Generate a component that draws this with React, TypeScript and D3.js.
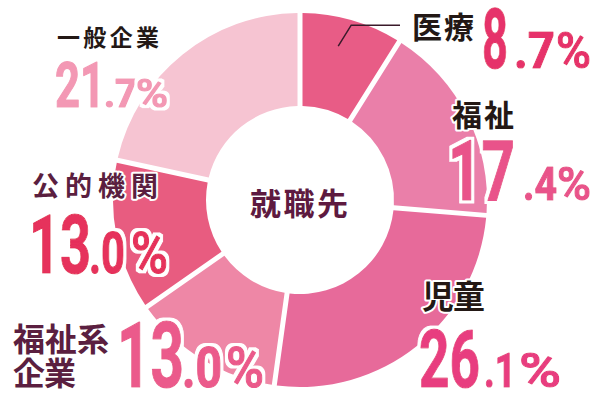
import React from "react";
import * as d3 from "d3";

const categories = ["医療", "福祉", "児童", "福祉系企業", "公的機関", "一般企業"];
const values = [8.7, 17.4, 26.1, 13.0, 13.0, 21.7];
const sliceColors = ["#e85c86", "#ea7fa9", "#e76a9a", "#ee87a6", "#e85c80", "#f6c4d2"];
const numberColors = ["#e6336a", "#e9538a", "#e83e7f", "#eb5a8b", "#e6305b", "#f398b4"];
const nameColors = ["#231815", "#231815", "#231815", "#5b1f40", "#5b1f40", "#231815"];
const centerTitle = "就職先";

// label layout (positions only)
const nameLayout = [
  { lines: ["医療"], x: 412, y: [38], size: 30, w: [62] },
  { lines: ["福祉"], x: 452, y: [126], size: 30, w: [62] },
  { lines: ["児童"], x: 422, y: [308], size: 32, w: [63] },
  { lines: ["福祉系", "企業"], x: 13, y: [351, 385], size: 32, w: [96, 63] },
  { lines: ["公的機関"], x: 32, y: [196], size: 27, w: [126] },
  { lines: ["一般企業"], x: 57, y: [46], size: 23, w: [102] },
];
const numLayout = [
  { x: 482, y: 68, big: 84, bw: 26, fx: 514, fw: 41, px: 556, pw: 35, small: 50 },
  { x: 448, y: 200, big: 84, bw: 67, fx: 523, fw: 34, px: 557, pw: 34, small: 47 },
  { x: 419, y: 387, big: 80, bw: 61, fx: 484, fw: 32, px: 519, pw: 42, small: 49 },
  { x: 117, y: 387, big: 90, bw: 67, fx: 182, fw: 40, px: 226, pw: 38, small: 56 },
  { x: 29, y: 273, big: 81, bw: 62, fx: 89, fw: 36, px: 131, pw: 37, small: 57 },
  { x: 55, y: 107, big: 63, bw: 50, fx: 104, fw: 33, px: 136, pw: 32, small: 38 },
];

const W = 600;
const H = 400;
const cx = 300;
const cy = 200;
const outerR = 187;
const innerR = 94;
const gap = 5;

const NUM_FONT = "Roboto, 'Liberation Sans', sans-serif";
const CJK_FONT = "'Noto Sans CJK JP', 'Noto Sans CJK SC', sans-serif";

type NumTextProps = {
  x: number;
  y: number;
  w: number;
  size: number;
  weight: number;
  color: string;
  children: string;
};

function NumText({ x, y, w, size, weight, color, children }: NumTextProps) {
  return (
    <text
      x={x}
      y={y}
      textLength={w}
      lengthAdjust="spacingAndGlyphs"
      fontFamily={NUM_FONT}
      fontWeight={weight}
      fontSize={size}
      fill={color}
      stroke={color}
      strokeWidth={1.2}
      strokeLinejoin="round"
      filter="url(#whiteOutline)"
    >
      {children}
    </text>
  );
}

export default function App() {
  const pie = d3
    .pie<number>()
    .sort(null)
    .startAngle(0)
    .endAngle(2 * Math.PI)
    .padAngle(gap / outerR);
  const arcs = pie(values);
  const arc = d3
    .arc<d3.PieArcDatum<number>>()
    .innerRadius(innerR)
    .outerRadius(outerR)
    .padRadius(outerR);
  const leaderArc = d3
    .arc<d3.PieArcDatum<number>>()
    .innerRadius(158)
    .outerRadius(162);

  const lead = leaderArc.centroid(arcs[0]);
  const lx0 = cx + lead[0] - 6;
  const ly0 = cy + lead[1];
  const lx1 = lx0 + 13;
  const ly1 = ly0 - 21;
  const lx2 = nameLayout[0].x - 12;

  const outline = {
    stroke: "#fff",
    strokeWidth: 4,
    strokeLinejoin: "round" as const,
    paintOrder: "stroke" as const,
  };

  return (
    <svg
      width={W}
      height={H}
      style={{ position: "absolute", left: 0, top: 0, background: "#fff" }}
    >
      <defs>
        <filter id="whiteOutline" x="-20%" y="-20%" width="140%" height="140%">
          <feMorphology in="SourceAlpha" operator="dilate" radius={2.5} result="dil" />
          <feFlood floodColor="#fff" result="white" />
          <feComposite in="white" in2="dil" operator="in" result="halo" />
          <feMerge>
            <feMergeNode in="halo" />
            <feMergeNode in="SourceGraphic" />
          </feMerge>
        </filter>
      </defs>
      <g transform={`translate(${cx},${cy})`}>
        {arcs.map((a, i) => (
          <path key={categories[i]} d={arc(a) || ""} fill={sliceColors[i]} />
        ))}
      </g>
      <polyline
        points={`${lx0},${ly0} ${lx1},${ly1} ${lx2},${ly1}`}
        fill="none"
        stroke="#3a1a2a"
        strokeWidth={1.5}
      />
      <text
        x={250}
        y={215}
        textLength={98}
        lengthAdjust="spacing"
        fontFamily={CJK_FONT}
        fontWeight={700}
        fontSize={31}
        fill="#5e1a40"
      >
        {centerTitle}
      </text>
      {categories.map((c, i) => {
        const nl = nameLayout[i];
        const num = numLayout[i];
        const v = values[i].toFixed(1);
        const [intPart, fracPart] = v.split(".");
        return (
          <g key={c}>
            {nl.lines.map((line, j) => (
              <text
                key={line}
                x={nl.x}
                y={nl.y[j]}
                textLength={nl.w[j]}
                lengthAdjust="spacing"
                fontFamily={CJK_FONT}
                fontWeight={700}
                fontSize={nl.size}
                fill={nameColors[i]}
                {...outline}
              >
                {line}
              </text>
            ))}
            <NumText x={num.x} y={num.y} w={num.bw} size={num.big} weight={700} color={numberColors[i]}>
              {intPart}
            </NumText>
            <NumText x={num.fx} y={num.y} w={num.fw} size={num.small} weight={700} color={numberColors[i]}>
              {"." + fracPart}
            </NumText>
            <NumText x={num.px} y={num.y} w={num.pw} size={num.small} weight={500} color={numberColors[i]}>
              %
            </NumText>
          </g>
        );
      })}
    </svg>
  );
}
